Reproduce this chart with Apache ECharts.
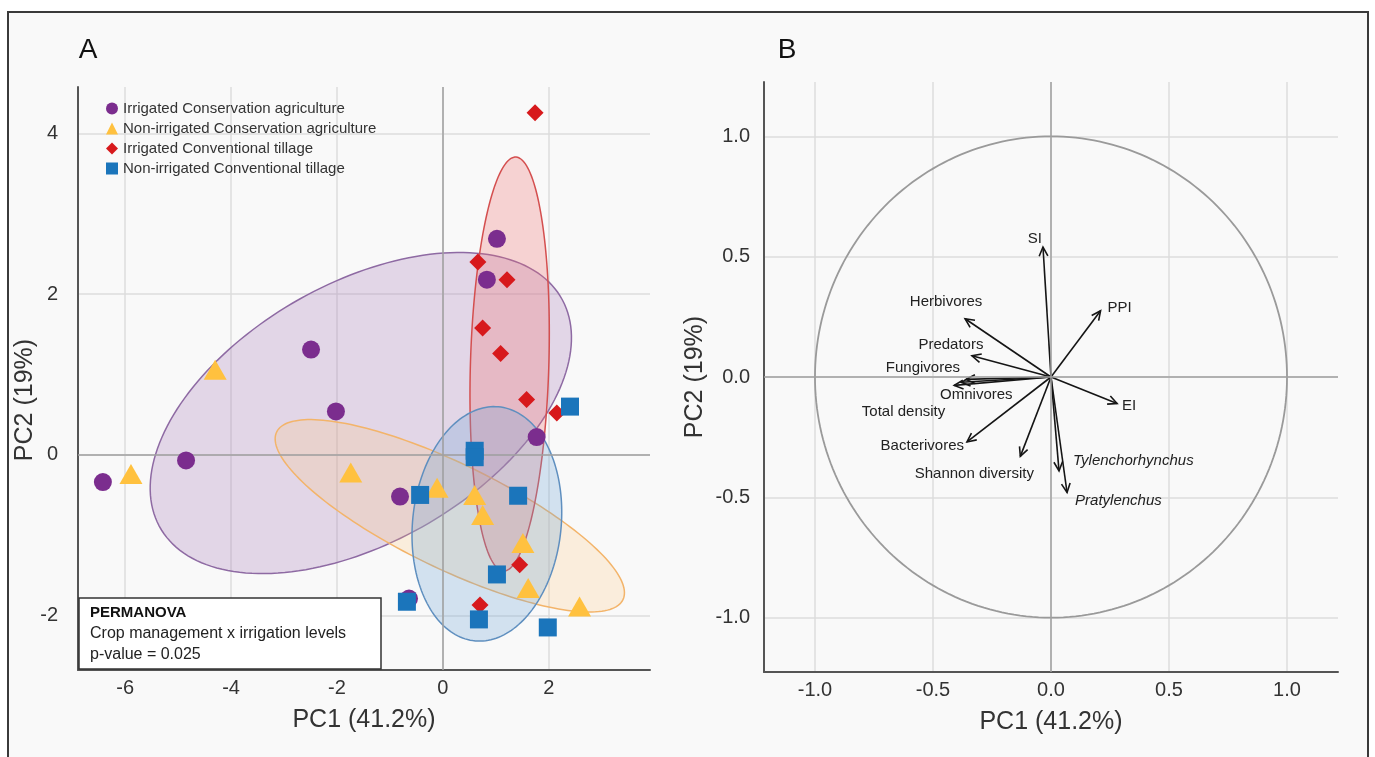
<!DOCTYPE html>
<html><head><meta charset="utf-8">
<script src="https://cdn.jsdelivr.net/npm/echarts@6/dist/echarts.min.js"></script>
<style>html,body{margin:0;padding:0;background:#fff}#c{width:1375px;height:757px}</style>
</head><body><div id="c"></div>
<script>
// ---------- Panel A: PCA scores ----------
const groupNames = ['Irrigated Conservation agriculture','Non-irrigated Conservation agriculture','Irrigated Conventional tillage','Non-irrigated Conventional tillage'];
const icaX  = [-6.42,-4.85,-2.49,-2.02,1.02,0.83,1.77,-0.81,-0.64];
const icaY  = [-0.34,-0.07,1.31,0.54,2.69,2.18,0.22,-0.52,-1.79];
const nicaX = [-5.89,-4.30,-1.74,-0.11,0.60,0.75,1.51,1.61,2.58];
const nicaY = [-0.24,1.06,-0.22,-0.41,-0.50,-0.75,-1.10,-1.66,-1.89];
const ictX  = [1.74,0.66,1.21,0.75,1.09,1.58,2.15,1.45,0.70];
const ictY  = [4.26,2.40,2.18,1.58,1.26,0.69,0.52,-1.37,-1.87];
const nictX = [2.40,0.60,0.60,-0.43,1.42,1.02,-0.68,0.68,1.98];
const nictY = [0.60,0.05,-0.03,-0.50,-0.51,-1.49,-1.83,-2.05,-2.15];
// confidence ellipses: [centerX, centerY, semiMajor, semiMinor, angleDeg]
const ellipseICA  = [-1.55, 0.52, 4.11, 1.71, 16.1];
const ellipseNICA = [0.13, -0.76, 3.44, 0.69, -16.9];
const ellipseICT  = [1.26, 1.13, 2.58, 0.74, 87.3];
const ellipseNICT = [0.83, -0.86, 1.51, 1.36, 54];
const permanovaLines = ['PERMANOVA','Crop management x irrigation levels','p-value = 0.025'];
const axisTitleX = 'PC1 (41.2%)';
const axisTitleY = 'PC2 (19%)';

// ---------- Panel B: loadings ----------
const loadNames = ['SI','PPI','Herbivores','Predators','Fungivores','Omnivores','Total density','EI','Bacterivores','Shannon diversity','Tylenchorhynchus','Pratylenchus'];
const loadX = [-0.034,0.21,-0.364,-0.335,-0.36,-0.38,-0.41,0.28,-0.356,-0.13,0.034,0.068];
const loadY = [0.54,0.275,0.242,0.088,-0.01,-0.022,-0.035,-0.11,-0.27,-0.33,-0.39,-0.48];
const italicNames = ['Tylenchorhynchus','Pratylenchus'];
const circleRadius = [1.0];

// label placement (pixel offsets from arrow tip) and alignment
const labelPlace = {
  'SI':[-1,-8,'right'], 'PPI':[7,-3,'left'], 'Herbivores':[-19,-17,'center'],
  'Predators':[-21,-11,'center'], 'Fungivores':[-6,-12,'right'], 'Omnivores':[15,13,'center'],
  'Total density':[-9,26,'right'], 'EI':[5,2,'left'], 'Bacterivores':[-3,4,'right'],
  'Shannon diversity':[-46,17,'center'], 'Tylenchorhynchus':[14,-10,'left'], 'Pratylenchus':[8,8,'left']
};

const zip = (a,b)=>a.map((v,i)=>[v,b[i]]);
const FONT = '"Liberation Sans", Arial, sans-serif';
const colors = ['#7b2d8e','#ffc13f','#d7191c','#1b75bb'];
const ellStyle = [
  {fill:'rgba(160,110,180,0.25)', stroke:'#8e6aa3'},
  {fill:'rgba(255,196,120,0.22)', stroke:'#f3b46a'},
  {fill:'rgba(240,110,110,0.28)', stroke:'#d44f4f'},
  {fill:'rgba(110,165,215,0.28)', stroke:'#5f8fbf'}
];

function ellipseRender(styleIdx){
  return function(params, api){
    const cx=api.value(0), cy=api.value(1), a=api.value(2), b=api.value(3), ang=api.value(4)*Math.PI/180;
    const pts=[];
    for(let k=0;k<180;k++){
      const t=k/180*2*Math.PI;
      const ex=a*Math.cos(t), ey=b*Math.sin(t);
      pts.push(api.coord([cx+ex*Math.cos(ang)-ey*Math.sin(ang), cy+ex*Math.sin(ang)+ey*Math.cos(ang)]));
    }
    return {type:'polygon', shape:{points:pts}, style:{fill:ellStyle[styleIdx].fill, stroke:ellStyle[styleIdx].stroke, lineWidth:1.5}};
  };
}
function ellSeries(p, idx){
  return {type:'custom', xAxisIndex:0, yAxisIndex:0, renderItem:ellipseRender(idx), data:[p], z:1, silent:true, clip:true,
          encode:{x:0,y:1}};
}

const axisCommonA = {
  axisLine:{show:true, onZero:false, lineStyle:{color:'#555', width:2}},
  axisTick:{show:false},
  splitLine:{show:true, showMinLine:false, showMaxLine:false, lineStyle:{color:'#dcdcdc', width:1.5}},
  axisLabel:{color:'#333', fontSize:20, fontFamily:FONT, showMinLabel:false, showMaxLabel:false},
  nameTextStyle:{color:'#333', fontSize:25, fontFamily:FONT},
  nameLocation:'middle'
};

const chart = echarts.init(document.getElementById('c'), null, {renderer:'canvas'});
const option = {
  animation:false,
  backgroundColor:'#ffffff',
  graphic:[
    {type:'rect', z:-10, shape:{x:8,y:12,width:1360,height:760}, style:{fill:'#f9f9f9', stroke:'#3a3a3a', lineWidth:2}},
    {type:'text', x:88, y:50, style:{text:'A', font:'28px '+FONT, fill:'#111', align:'center', verticalAlign:'middle'}},
    {type:'text', x:787, y:50, style:{text:'B', font:'28px '+FONT, fill:'#111', align:'center', verticalAlign:'middle'}},
    {type:'text', x:25, y:400, rotation:Math.PI/2, style:{text:axisTitleY, font:'25px '+FONT, fill:'#333', align:'center', verticalAlign:'middle'}},
    {type:'rect', z:50, shape:{x:79,y:598,width:302,height:71}, style:{fill:'#ffffff', stroke:'#333', lineWidth:1.5}},
    {type:'text', z:51, x:90, y:613, style:{text:permanovaLines[0], font:'bold 15px '+FONT, fill:'#111', verticalAlign:'middle'}},
    {type:'text', z:51, x:90, y:634, style:{text:permanovaLines[1], font:'16px '+FONT, fill:'#222', verticalAlign:'middle'}},
    {type:'text', z:51, x:90, y:655, style:{text:permanovaLines[2], font:'16px '+FONT, fill:'#222', verticalAlign:'middle'}}
  ],
  legend:{
    data:groupNames.map((n,i)=>({name:n, icon: ['circle','triangle','diamond','rect'][i]})),
    orient:'vertical', left:101, top:96, itemWidth:12, itemHeight:12, itemGap:5,
    textStyle:{fontSize:15, fontFamily:FONT, color:'#333', lineHeight:14}, selectedMode:false
  },
  grid:[
    {left:78, top:87, width:572, height:583},
    {left:764, top:82, width:574, height:590}
  ],
  xAxis:[
    Object.assign({}, axisCommonA, {gridIndex:0, type:'value', min:-6.89, max:3.91, minInterval:2, maxInterval:2,
      name:axisTitleX, nameGap:38}),
    Object.assign({}, axisCommonA, {gridIndex:1, type:'value', min:-1.216, max:1.216, minInterval:0.5, maxInterval:0.5,
      name:axisTitleX, nameGap:38,
      axisLabel:Object.assign({}, axisCommonA.axisLabel, {formatter:v=>v.toFixed(1)})})
  ],
  yAxis:[
    Object.assign({}, axisCommonA, {gridIndex:0, type:'value', min:-2.68, max:4.58, minInterval:2, maxInterval:2,
      axisLabel:Object.assign({}, axisCommonA.axisLabel, {margin:20})}),
    Object.assign({}, axisCommonA, {gridIndex:1, type:'value', min:-1.226, max:1.226, minInterval:0.5, maxInterval:0.5,
      name:axisTitleY, nameGap:56,
      axisLabel:Object.assign({}, axisCommonA.axisLabel, {margin:14, formatter:v=>v.toFixed(1)})})
  ],
  series:[
    // zero lines panel A
    {type:'line', xAxisIndex:0, yAxisIndex:0, data:[], silent:true, z:0,
     markLine:{silent:true, symbol:'none', label:{show:false}, lineStyle:{color:'#a0a0a0', width:1.5, type:'solid'},
       data:[{xAxis:0},{yAxis:0}]}},
    ellSeries(ellipseICA,0), ellSeries(ellipseNICA,1), ellSeries(ellipseICT,2), ellSeries(ellipseNICT,3),
    {name:groupNames[0], type:'scatter', xAxisIndex:0, yAxisIndex:0, symbol:'circle', symbolSize:18, z:5, data:zip(icaX,icaY), itemStyle:{color:colors[0], opacity:1}},
    {name:groupNames[1], type:'scatter', xAxisIndex:0, yAxisIndex:0, symbol:'triangle', symbolSize:[23,20], z:5, data:zip(nicaX,nicaY), itemStyle:{color:colors[1], opacity:1}},
    {name:groupNames[2], type:'scatter', xAxisIndex:0, yAxisIndex:0, symbol:'diamond', symbolSize:17, z:5, data:zip(ictX,ictY), itemStyle:{color:colors[2], opacity:1}},
    {name:groupNames[3], type:'scatter', xAxisIndex:0, yAxisIndex:0, symbol:'rect', symbolSize:18, z:5, data:zip(nictX,nictY), itemStyle:{color:colors[3], opacity:1}},
    // panel B zero lines
    {type:'line', xAxisIndex:1, yAxisIndex:1, data:[], silent:true, z:0,
     markLine:{silent:true, symbol:'none', label:{show:false}, lineStyle:{color:'#a0a0a0', width:1.5, type:'solid'},
       data:[{xAxis:0},{yAxis:0}]}},
    // unit circle
    {type:'custom', xAxisIndex:1, yAxisIndex:1, silent:true, z:2, data:circleRadius.map(r=>[0,0,r]), encode:{x:0,y:1},
     renderItem:function(params, api){
       const r=api.value(2); const pts=[];
       for(let k=0;k<=240;k++){const t=k/240*2*Math.PI; pts.push(api.coord([r*Math.cos(t), r*Math.sin(t)]));}
       return {type:'polyline', shape:{points:pts}, style:{stroke:'#9a9a9a', lineWidth:1.8, fill:null}};
     }},
    // loading arrows
    {type:'custom', xAxisIndex:1, yAxisIndex:1, silent:true, z:4, encode:{x:0,y:1},
     data:loadX.map((v,i)=>[v, loadY[i], i]),
     renderItem:function(params, api){
       const o=api.coord([0,0]); const t=api.coord([api.value(0), api.value(1)]);
       const name=loadNames[api.value(2)];
       const ang=Math.atan2(t[1]-o[1], t[0]-o[0]);
       const hl=10, spread=0.45;
       const h1=[t[0]-hl*Math.cos(ang-spread), t[1]-hl*Math.sin(ang-spread)];
       const h2=[t[0]-hl*Math.cos(ang+spread), t[1]-hl*Math.sin(ang+spread)];
       const lp=labelPlace[name];
       const italic=italicNames.indexOf(name)>=0;
       return {type:'group', children:[
         {type:'line', shape:{x1:o[0],y1:o[1],x2:t[0],y2:t[1]}, style:{stroke:'#151515', lineWidth:1.6}},
         {type:'polyline', shape:{points:[h1,t,h2]}, style:{stroke:'#151515', lineWidth:1.6, fill:null}},
         {type:'text', x:t[0]+lp[0], y:t[1]+lp[1], style:{text:name, font:(italic?'italic ':'')+'15px '+FONT, fill:'#222', align:lp[2], verticalAlign:'middle'}}
       ]};
     }}
  ]
};
chart.setOption(option);
</script></body></html>
